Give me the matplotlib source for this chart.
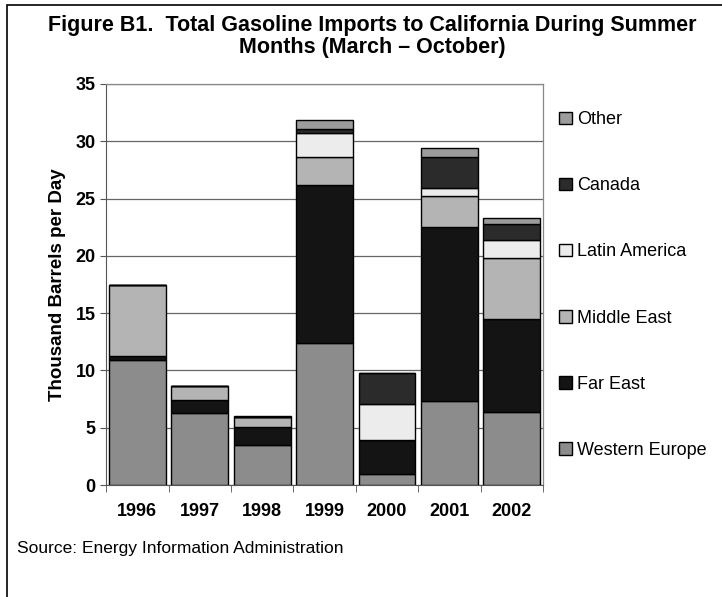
import matplotlib
matplotlib.use("Agg")
import matplotlib.pyplot as plt
from matplotlib.patches import Rectangle
import numpy as np

plt.rcParams['font.family'] = ['Liberation Sans', 'DejaVu Sans']

years = ['1996', '1997', '1998', '1999', '2000', '2001', '2002']
western_europe = [10.9, 6.25, 3.5, 12.4, 1.0, 7.3, 6.4]
far_east = [0.4, 1.15, 1.6, 13.8, 2.9, 15.2, 8.1]
middle_east = [6.15, 1.2, 0.8, 2.4, 0.0, 2.7, 5.3]
latin_america = [0.0, 0.0, 0.0, 2.1, 3.2, 0.7, 1.6]
canada = [0.0, 0.0, 0.0, 0.4, 2.65, 2.75, 1.4]
other = [0.0, 0.0, 0.1, 0.8, 0.0, 0.75, 0.5]

series = [
    ('Western Europe', western_europe, '#8c8c8c'),
    ('Far East', far_east, '#141414'),
    ('Middle East', middle_east, '#b4b4b4'),
    ('Latin America', latin_america, '#ececec'),
    ('Canada', canada, '#2b2b2b'),
    ('Other', other, '#9c9c9c'),
]

fig = plt.figure(figsize=(7.22, 5.97), dpi=100)
ax = fig.add_axes([0.147, 0.1876, 0.605, 0.6717])

# outer frame around the whole figure
fig.patches.append(Rectangle((7 / 722, -0.05), 1.1, 1 - 5 / 597 + 0.05,
                             transform=fig.transFigure, fill=False,
                             edgecolor='black', linewidth=1.2))

x = np.arange(len(years))
bottom = np.zeros(len(years))
handles = []
for name, vals, color in series:
    vals = np.array(vals)
    b = ax.bar(x, vals, width=0.91, bottom=bottom, color=color,
               edgecolor='black', linewidth=1.0, label=name, zorder=3)
    handles.append(b)
    bottom += vals

ax.set_xlim(-0.5, len(years) - 0.5)
ax.set_ylim(0, 35)
ax.set_yticks(range(0, 36, 5))
ax.set_xticks(x)
ax.set_xticklabels(years, fontsize=13, fontweight='bold')
ax.set_xticks(np.arange(-0.5, len(years), 1), minor=True)
ax.tick_params(axis='x', which='major', length=0, pad=13)
ax.tick_params(axis='x', which='minor', length=5, color='#555555')
ax.tick_params(axis='y', length=4, color='#555555', labelsize=13)
for lbl in ax.get_yticklabels():
    lbl.set_fontweight('bold')

ax.grid(axis='y', color='#666666', linewidth=0.9, zorder=0)
for side in ['top', 'right']:
    ax.spines[side].set_color('#888888')
    ax.spines[side].set_linewidth(0.9)
ax.spines['left'].set_color('#555555')
ax.spines['bottom'].set_color('#555555')

ax.set_ylabel('Thousand Barrels per Day', fontsize=13.5, fontweight='bold', labelpad=7)

fig.text(0.515, 0.939, 'Figure B1.  Total Gasoline Imports to California During Summer\nMonths (March \u2013 October)',
         ha='center', va='center', fontsize=15.5, fontweight='bold', linespacing=1.05)

ax.legend(handles[::-1], [s[0] for s in series][::-1],
          loc='upper left', bbox_to_anchor=(1.02, 0.95),
          frameon=False, fontsize=13, handlelength=0.7, handleheight=0.7,
          handletextpad=0.3, labelspacing=2.72, borderaxespad=0)

fig.text(17 / 722, 1 - 548 / 597, 'Source: Energy Information Administration',
         ha='left', va='center', fontsize=12.5)

fig.savefig('out.png', dpi=100)
